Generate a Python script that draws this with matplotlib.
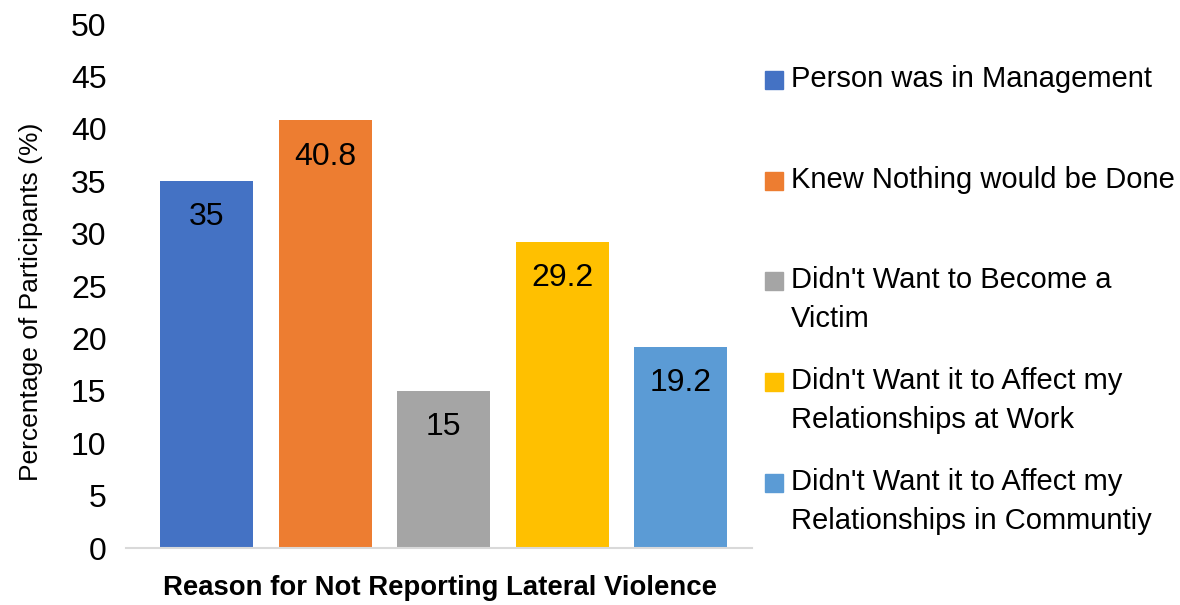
import matplotlib.pyplot as plt
from matplotlib.patches import Rectangle
from matplotlib import font_manager

# reasons and percentages
reasons = ["Person was in Management",
           "Knew Nothing would be Done",
           "Didn't Want to Become a\nVictim",
           "Didn't Want it to Affect my\nRelationships at Work",
           "Didn't Want it to Affect my\nRelationships in Communtiy"]
percent = [35, 40.8, 15, 29.2, 19.2]
value_labels = ["35", "40.8", "15", "29.2", "19.2"]
colors = ["#4472C4", "#ED7D31", "#A5A5A5", "#FFC000", "#5B9BD5"]
yticks = [0, 5, 10, 15, 20, 25, 30, 35, 40, 45, 50]

plt.rcParams['font.family'] = ['Liberation Sans', 'DejaVu Sans']

# narrow bold for the x title if it's there
try:
    font_manager.findfont(font_manager.FontProperties(family='Liberation Sans Narrow', weight='bold'),
                          fallback_to_default=False)
    xl_family, xl_size = 'Liberation Sans Narrow', 24
except Exception:
    xl_family, xl_size = 'Liberation Sans', 19.8

fig = plt.figure(figsize=(11.8, 6.05), dpi=100)
ax = fig.add_axes([126/1180, 1-548/605, (752-126)/1180, (548-24)/605])

x = list(range(len(percent)))
bars = ax.bar(x, percent, width=0.785, color=colors)
for b, lab in zip(bars, value_labels):
    ax.annotate(lab, (b.get_x()+b.get_width()/2, b.get_height()),
                xytext=(0, -26), textcoords='offset points',
                ha='center', va='center', fontsize=23)

ax.set_xlim(-0.68, 4.6)
ax.set_ylim(0, 50)
ax.set_yticks(yticks)
ax.tick_params(axis='y', length=0, labelsize=23, pad=14)
ax.set_xticks([])
for s in ['top', 'right', 'left']:
    ax.spines[s].set_visible(False)
ax.spines['bottom'].set_color('#D9D9D9')
ax.spines['bottom'].set_linewidth(1.5)

ax.set_ylabel("Percentage of Participants (%)", fontsize=19, labelpad=20, y=0.47)
fig.text(440/1180, 1-588/605, "Reason for Not Reporting Lateral Violence",
         ha='center', va='center', fontsize=xl_size, fontweight='bold',
         family=[xl_family, 'Liberation Sans'])

# manual legend on the right
entry_tops = [71, 172, 272, 373, 474]
for top, lab, c in zip(entry_tops, reasons, colors):
    fig.patches.append(Rectangle((765/1180, 1-(top+18)/605), 18/1180, 18/605,
                                 transform=fig.transFigure, color=c))
    fig.text(791/1180, 1-(top-6)/605, lab, ha='left', va='top',
             fontsize=21, linespacing=1.5)

fig.savefig("out.png", dpi=100)
